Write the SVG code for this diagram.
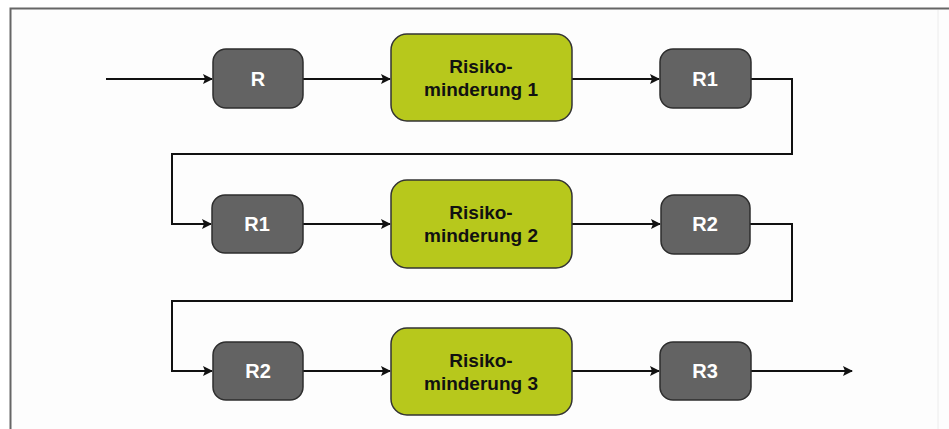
<svg xmlns="http://www.w3.org/2000/svg" width="949" height="429" viewBox="0 0 949 429">
<style>
.g rect{fill:#636363;stroke:#2e2e2e;stroke-width:1.5}
.y rect{fill:#b7c81c;stroke:#333;stroke-width:1.5}
.g text{fill:#fff;font-family:"Liberation Sans",Arial,sans-serif;font-weight:bold;font-size:20px;text-anchor:middle}
.y text{fill:#111;font-family:"Liberation Sans",Arial,sans-serif;font-weight:bold;font-size:19px;text-anchor:middle}
#connectors path{fill:none;stroke:#111;stroke-width:2;marker-end:url(#ah)}
</style>
<defs>
<marker id="ah" viewBox="0 0 10 10" refX="9" refY="5" markerWidth="5" markerHeight="5" orient="auto" markerUnits="strokeWidth">
<path d="M0,0 L10,5 L0,10 L2,5 z" fill="#111"/>
</marker>
</defs>
<rect x="0" y="0" width="949" height="429" fill="#fff"/>
<rect x="11" y="9" width="938" height="420" fill="#fdfdfd"/>
<path d="M10.5,429 V8.5 H949" fill="none" stroke="#666" stroke-width="2"/>
<line x1="938" y1="10" x2="938" y2="429" stroke="#ececec" stroke-width="1"/>
<g id="connectors">
<path d="M106,79 H212"/>
<path d="M303,79 H390"/>
<path d="M572,79 H659"/>
<path d="M751,79 H792 V154 H172 V224 H211"/>
<path d="M303,224 H390"/>
<path d="M572,224 H660"/>
<path d="M750,224 H792 V301 H172 V371 H212"/>
<path d="M303,371 H390"/>
<path d="M572,371 H659"/>
<path d="M751,371 H852"/>
</g>
<g id="r0" class="g"><rect x="213" y="49" width="90" height="59" rx="13"/><text x="258" y="86">R</text></g>
<g id="rm1" class="y"><rect x="391" y="34" width="181" height="87" rx="16"/><text x="481" y="73">Risiko-</text><text x="481" y="96">minderung 1</text></g>
<g id="r1a" class="g"><rect x="660" y="49" width="91" height="59" rx="13"/><text x="705" y="86">R1</text></g>
<g id="r1b" class="g"><rect x="212" y="195" width="91" height="58" rx="13"/><text x="257" y="231">R1</text></g>
<g id="rm2" class="y"><rect x="391" y="180" width="181" height="88" rx="16"/><text x="481" y="219">Risiko-</text><text x="481" y="242">minderung 2</text></g>
<g id="r2a" class="g"><rect x="661" y="195" width="89" height="59" rx="13"/><text x="705" y="231">R2</text></g>
<g id="r2b" class="g"><rect x="213" y="342" width="90" height="58" rx="13"/><text x="258" y="378">R2</text></g>
<g id="rm3" class="y"><rect x="391" y="328" width="181" height="87" rx="16"/><text x="481" y="367">Risiko-</text><text x="481" y="390">minderung 3</text></g>
<g id="r3" class="g"><rect x="660" y="342" width="91" height="58" rx="13"/><text x="705" y="378">R3</text></g>
</svg>
